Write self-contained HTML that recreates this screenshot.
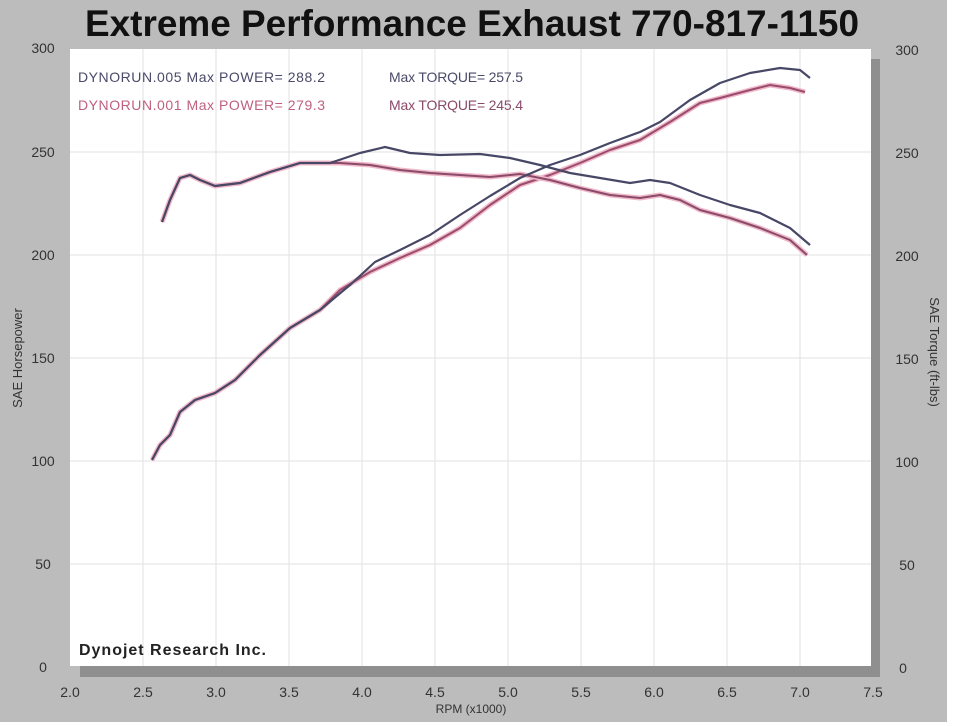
<!DOCTYPE html>
<html><head><meta charset="utf-8"><style>
html,body{margin:0;padding:0;background:#fff}
svg{display:block}
text{font-family:"Liberation Sans",Arial,sans-serif}
</style></head><body>
<svg width="953" height="726" viewBox="0 0 953 726">
<rect x="0" y="0" width="947" height="722" fill="#bcbcbc"/>
<rect x="80" y="59" width="800" height="618" fill="#8f8f8f"/>
<rect x="70" y="49" width="801" height="617" fill="#fff"/>
<g stroke="#e2e2e2" stroke-width="1">
<line x1="143" y1="49" x2="143" y2="666"/><line x1="216" y1="49" x2="216" y2="666"/>
<line x1="289" y1="49" x2="289" y2="666"/><line x1="362" y1="49" x2="362" y2="666"/>
<line x1="435" y1="49" x2="435" y2="666"/><line x1="508" y1="49" x2="508" y2="666"/>
<line x1="581" y1="49" x2="581" y2="666"/><line x1="654" y1="49" x2="654" y2="666"/>
<line x1="727" y1="49" x2="727" y2="666"/><line x1="800" y1="49" x2="800" y2="666"/>
<line x1="70" y1="152" x2="871" y2="152"/><line x1="70" y1="255" x2="871" y2="255"/>
<line x1="70" y1="358" x2="871" y2="358"/><line x1="70" y1="461" x2="871" y2="461"/>
<line x1="70" y1="564" x2="871" y2="564"/>
</g>
<text x="472" y="36" text-anchor="middle" font-size="37" font-weight="bold" fill="#111" textLength="774" lengthAdjust="spacingAndGlyphs">Extreme Performance Exhaust 770-817-1150</text>
<g font-size="14" fill="#333" text-anchor="middle">
<text x="43" y="53">300</text><text x="43" y="157">250</text><text x="43" y="260">200</text>
<text x="43" y="363">150</text><text x="43" y="466">100</text><text x="43" y="569">50</text><text x="43" y="672">0</text>
<text x="907" y="55">300</text><text x="907" y="158">250</text><text x="907" y="261">200</text>
<text x="907" y="364">150</text><text x="907" y="467">100</text><text x="907" y="570">50</text><text x="903" y="673">0</text>
<text x="70" y="697">2.0</text><text x="143" y="697">2.5</text><text x="216" y="697">3.0</text>
<text x="289" y="697">3.5</text><text x="362" y="697">4.0</text><text x="435" y="697">4.5</text>
<text x="508" y="697">5.0</text><text x="581" y="697">5.5</text><text x="654" y="697">6.0</text>
<text x="727" y="697">6.5</text><text x="800" y="697">7.0</text><text x="873" y="697">7.5</text>
</g>
<text x="471" y="713" text-anchor="middle" font-size="12" fill="#333">RPM (x1000)</text>
<text transform="translate(22,358) rotate(-90)" text-anchor="middle" font-size="13" fill="#333">SAE Horsepower</text>
<text transform="translate(930,352) rotate(90)" text-anchor="middle" font-size="13" fill="#333">SAE Torque (ft-lbs)</text>
<text x="79" y="655" font-size="16" font-weight="bold" fill="#222" textLength="187" lengthAdjust="spacing">Dynojet  Research  Inc.</text>
<g font-size="14">
<text x="78" y="82" fill="#4a4a6a" textLength="247" lengthAdjust="spacing">DYNORUN.005  Max POWER= 288.2</text>
<text x="389" y="82" fill="#4a4a6a" textLength="134" lengthAdjust="spacing">Max TORQUE= 257.5</text>
<text x="78" y="110" fill="#c06080" textLength="247" lengthAdjust="spacing">DYNORUN.001  Max POWER= 279.3</text>
<text x="389" y="110" fill="#8a4a6a" textLength="134" lengthAdjust="spacing">Max TORQUE= 245.4</text>
</g>
<g fill="none" stroke-linejoin="round">
<polyline stroke="#f0b8c8" stroke-width="5" points="152,460 160,445 170,435 180,412 195,400 215,393 235,380 260,355 290,328 320,310 340,290 370,272 400,258 430,245 460,228 490,205 520,185 550,175 580,163 610,150 640,140 670,122 700,103 720,98 750,90 770,85 790,88 805,92"/>
<polyline stroke="#9a4c6e" stroke-width="2" points="152,460 160,445 170,435 180,412 195,400 215,393 235,380 260,355 290,328 320,310 340,290 370,272 400,258 430,245 460,228 490,205 520,185 550,175 580,163 610,150 640,140 670,122 700,103 720,98 750,90 770,85 790,88 805,92"/>
<polyline stroke="#f0b8c8" stroke-width="5" points="162,222 170,200 180,178 190,175 200,180 215,186 240,183 270,172 300,163 340,163 370,165 400,170 430,173 460,175 490,177 520,174 550,180 580,188 610,195 640,198 660,195 680,200 700,210 730,218 760,228 790,240 807,255"/>
<polyline stroke="#8a4a6a" stroke-width="2" points="162,222 170,200 180,178 190,175 200,180 215,186 240,183 270,172 300,163 340,163 370,165 400,170 430,173 460,175 490,177 520,174 550,180 580,188 610,195 640,198 660,195 680,200 700,210 730,218 760,228 790,240 807,255"/>
<polyline stroke="#474766" stroke-width="2.2" points="152,460 160,445 170,435 180,412 195,400 215,393 235,380 260,355 290,328 320,310 350,285 375,262 400,250 430,235 460,215 490,196 520,178 550,165 580,155 610,143 640,132 660,122 690,100 720,83 750,73 780,68 800,70 810,78"/>
<polyline stroke="#474766" stroke-width="2.2" points="162,222 170,200 180,178 190,175 200,180 215,186 240,183 270,172 300,163 330,163 360,153 385,147 410,153 440,155 480,154 510,158 540,165 570,173 600,178 630,183 650,180 670,183 700,195 730,205 760,213 790,228 810,245"/>
</g>
</svg>
</body></html>
